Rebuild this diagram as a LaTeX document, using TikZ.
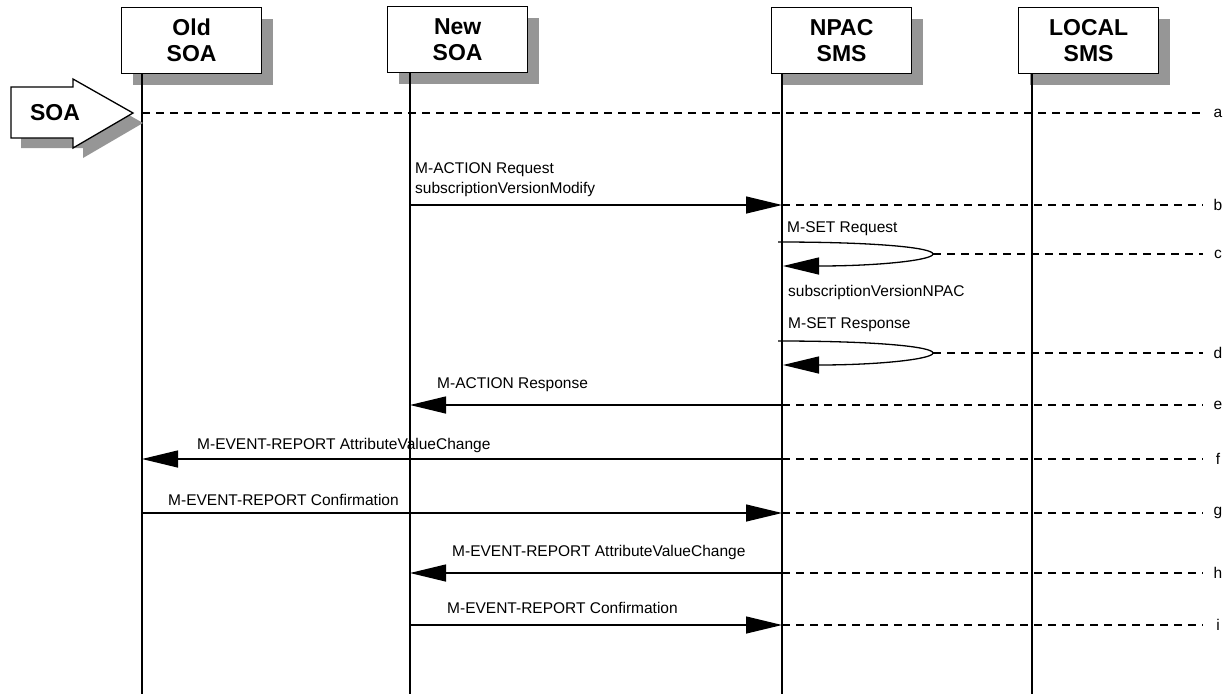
\documentclass[tikz,border=0pt]{standalone}
\usepackage{fontspec}
\setmainfont{Liberation Sans}
\usetikzlibrary{arrows.meta,calc,shadows}
\definecolor{shadowgray}{gray}{0.59}
\tikzset{
  actor/.style={draw,line width=1.3pt,fill=white,minimum width=140pt,minimum height=66pt,
    inner sep=0pt,anchor=north west,align=center,
    font=\fontsize{23}{26}\selectfont\bfseries,
    drop shadow={shadow xshift=11pt,shadow yshift=-11pt,fill=shadowgray,opacity=1}},
  life/.style={line width=1.3pt},
  msg/.style={line width=1.3pt,-{Triangle[length=36pt,width=17pt]}},
  loopline/.style={line width=1.3pt},
  dashline/.style={line width=1.2pt,dash pattern=on 8pt off 6pt},
  lbl/.style={font=\fontsize{15.5}{18}\selectfont,anchor=west,inner sep=0pt},
  tag/.style={font=\fontsize{15.5}{18}\selectfont,inner sep=0pt}
}
\begin{document}
\begin{tikzpicture}[x=1pt,y=-1pt]
\useasboundingbox (0,0) rectangle (1228,694);
% actor boxes
\node[actor] (old)   at (121,7)  {Old\\SOA};
\node[actor] (new)   at (387,6)  {New\\SOA};
\node[actor] (npac)  at (771,7)  {NPAC\\SMS};
\node[actor] (local) at (1018,7) {LOCAL\\SMS};
% lifeline x positions
\coordinate (oldX) at (142,0);
\coordinate (newX) at (410,0);
\coordinate (npacX) at (782,0);
\coordinate (localX) at (1032,0);
\coordinate (bottom) at (0,694);
\draw[life] (old.south -| oldX) -- (bottom -| oldX);
\draw[life] (new.south -| newX) -- (bottom -| newX);
\draw[life] (npac.south -| npacX) -- (bottom -| npacX);
\draw[life] (local.south -| localX) -- (bottom -| localX);
% message rows
\foreach \n/\y in {a/113,b/205,c/254,d/353,e/405,f/459,g/513,h/573,i/625} {
  \coordinate (old-\n) at (142,\y);
  \coordinate (new-\n) at (410,\y);
  \coordinate (npac-\n) at (782,\y);
  \coordinate (end-\n) at (1203,\y);
  \node[tag] (tag-\n) at (1218,\y) {\n};
}
% SOA block arrow
\fill[shadowgray] (21,97) -- (83,97) -- (83,89) -- (143,123) -- (83,158) -- (83,148) -- (21,148) -- cycle;
\draw[line width=1.3pt,fill=white] (11,87) -- (73,87) -- (73,79) -- (133,113) -- (73,148) -- (73,138) -- (11,138) -- cycle;
\node[font=\fontsize{23}{26}\selectfont\bfseries] (soa) at (55,113) {SOA};
% a
\draw[dashline] (old-a) -- (end-a);
% b
\draw[dashline] (npac-b) -- (end-b);
\draw[msg] (new-b) -- (npac-b);
\node[lbl] (lb1) at (415,170) {M-ACTION Request};
\node[lbl] (lb2) at (415,189) {subscriptionVersionModify};
% c
\coordinate (cs) at (778,242);
\coordinate (ct) at (933,254);
\coordinate (ce) at (783,266);
\draw[dashline] (ct) -- (end-c);
\draw[loopline] (cs) .. controls (880,242) and (933,248) .. (ct);
\draw[msg] (ct) .. controls (933,260) and (880,266) .. (ce);
\node[lbl] (lc1) at (787,229) {M-SET Request};
\node[lbl] (lc2) at (788,292) {subscriptionVersionNPAC};
% d
\coordinate (ds) at (778,341);
\coordinate (dt) at (933,353);
\coordinate (de) at (783,365);
\draw[dashline] (dt) -- (end-d);
\draw[loopline] (ds) .. controls (880,341) and (933,347) .. (dt);
\draw[msg] (dt) .. controls (933,359) and (880,365) .. (de);
\node[lbl] (ld) at (788,325) {M-SET Response};
% e
\draw[dashline] (npac-e) -- (end-e);
\draw[msg] (npac-e) -- (new-e);
\node[lbl] (le) at (437,385) {M-ACTION Response};
% f
\draw[dashline] (npac-f) -- (end-f);
\draw[msg] (npac-f) -- (old-f);
\node[lbl] (lf) at (197,445) {M-EVENT-REPORT AttributeValueChange};
% g
\draw[dashline] (npac-g) -- (end-g);
\draw[msg] (old-g) -- (npac-g);
\node[lbl] (lg) at (168,500) {M-EVENT-REPORT Confirmation};
% h
\draw[dashline] (npac-h) -- (end-h);
\draw[msg] (npac-h) -- (new-h);
\node[lbl] (lh) at (452,552) {M-EVENT-REPORT AttributeValueChange};
% i
\draw[dashline] (npac-i) -- (end-i);
\draw[msg] (new-i) -- (npac-i);
\node[lbl] (li) at (447,608) {M-EVENT-REPORT Confirmation};
\end{tikzpicture}
\end{document}
